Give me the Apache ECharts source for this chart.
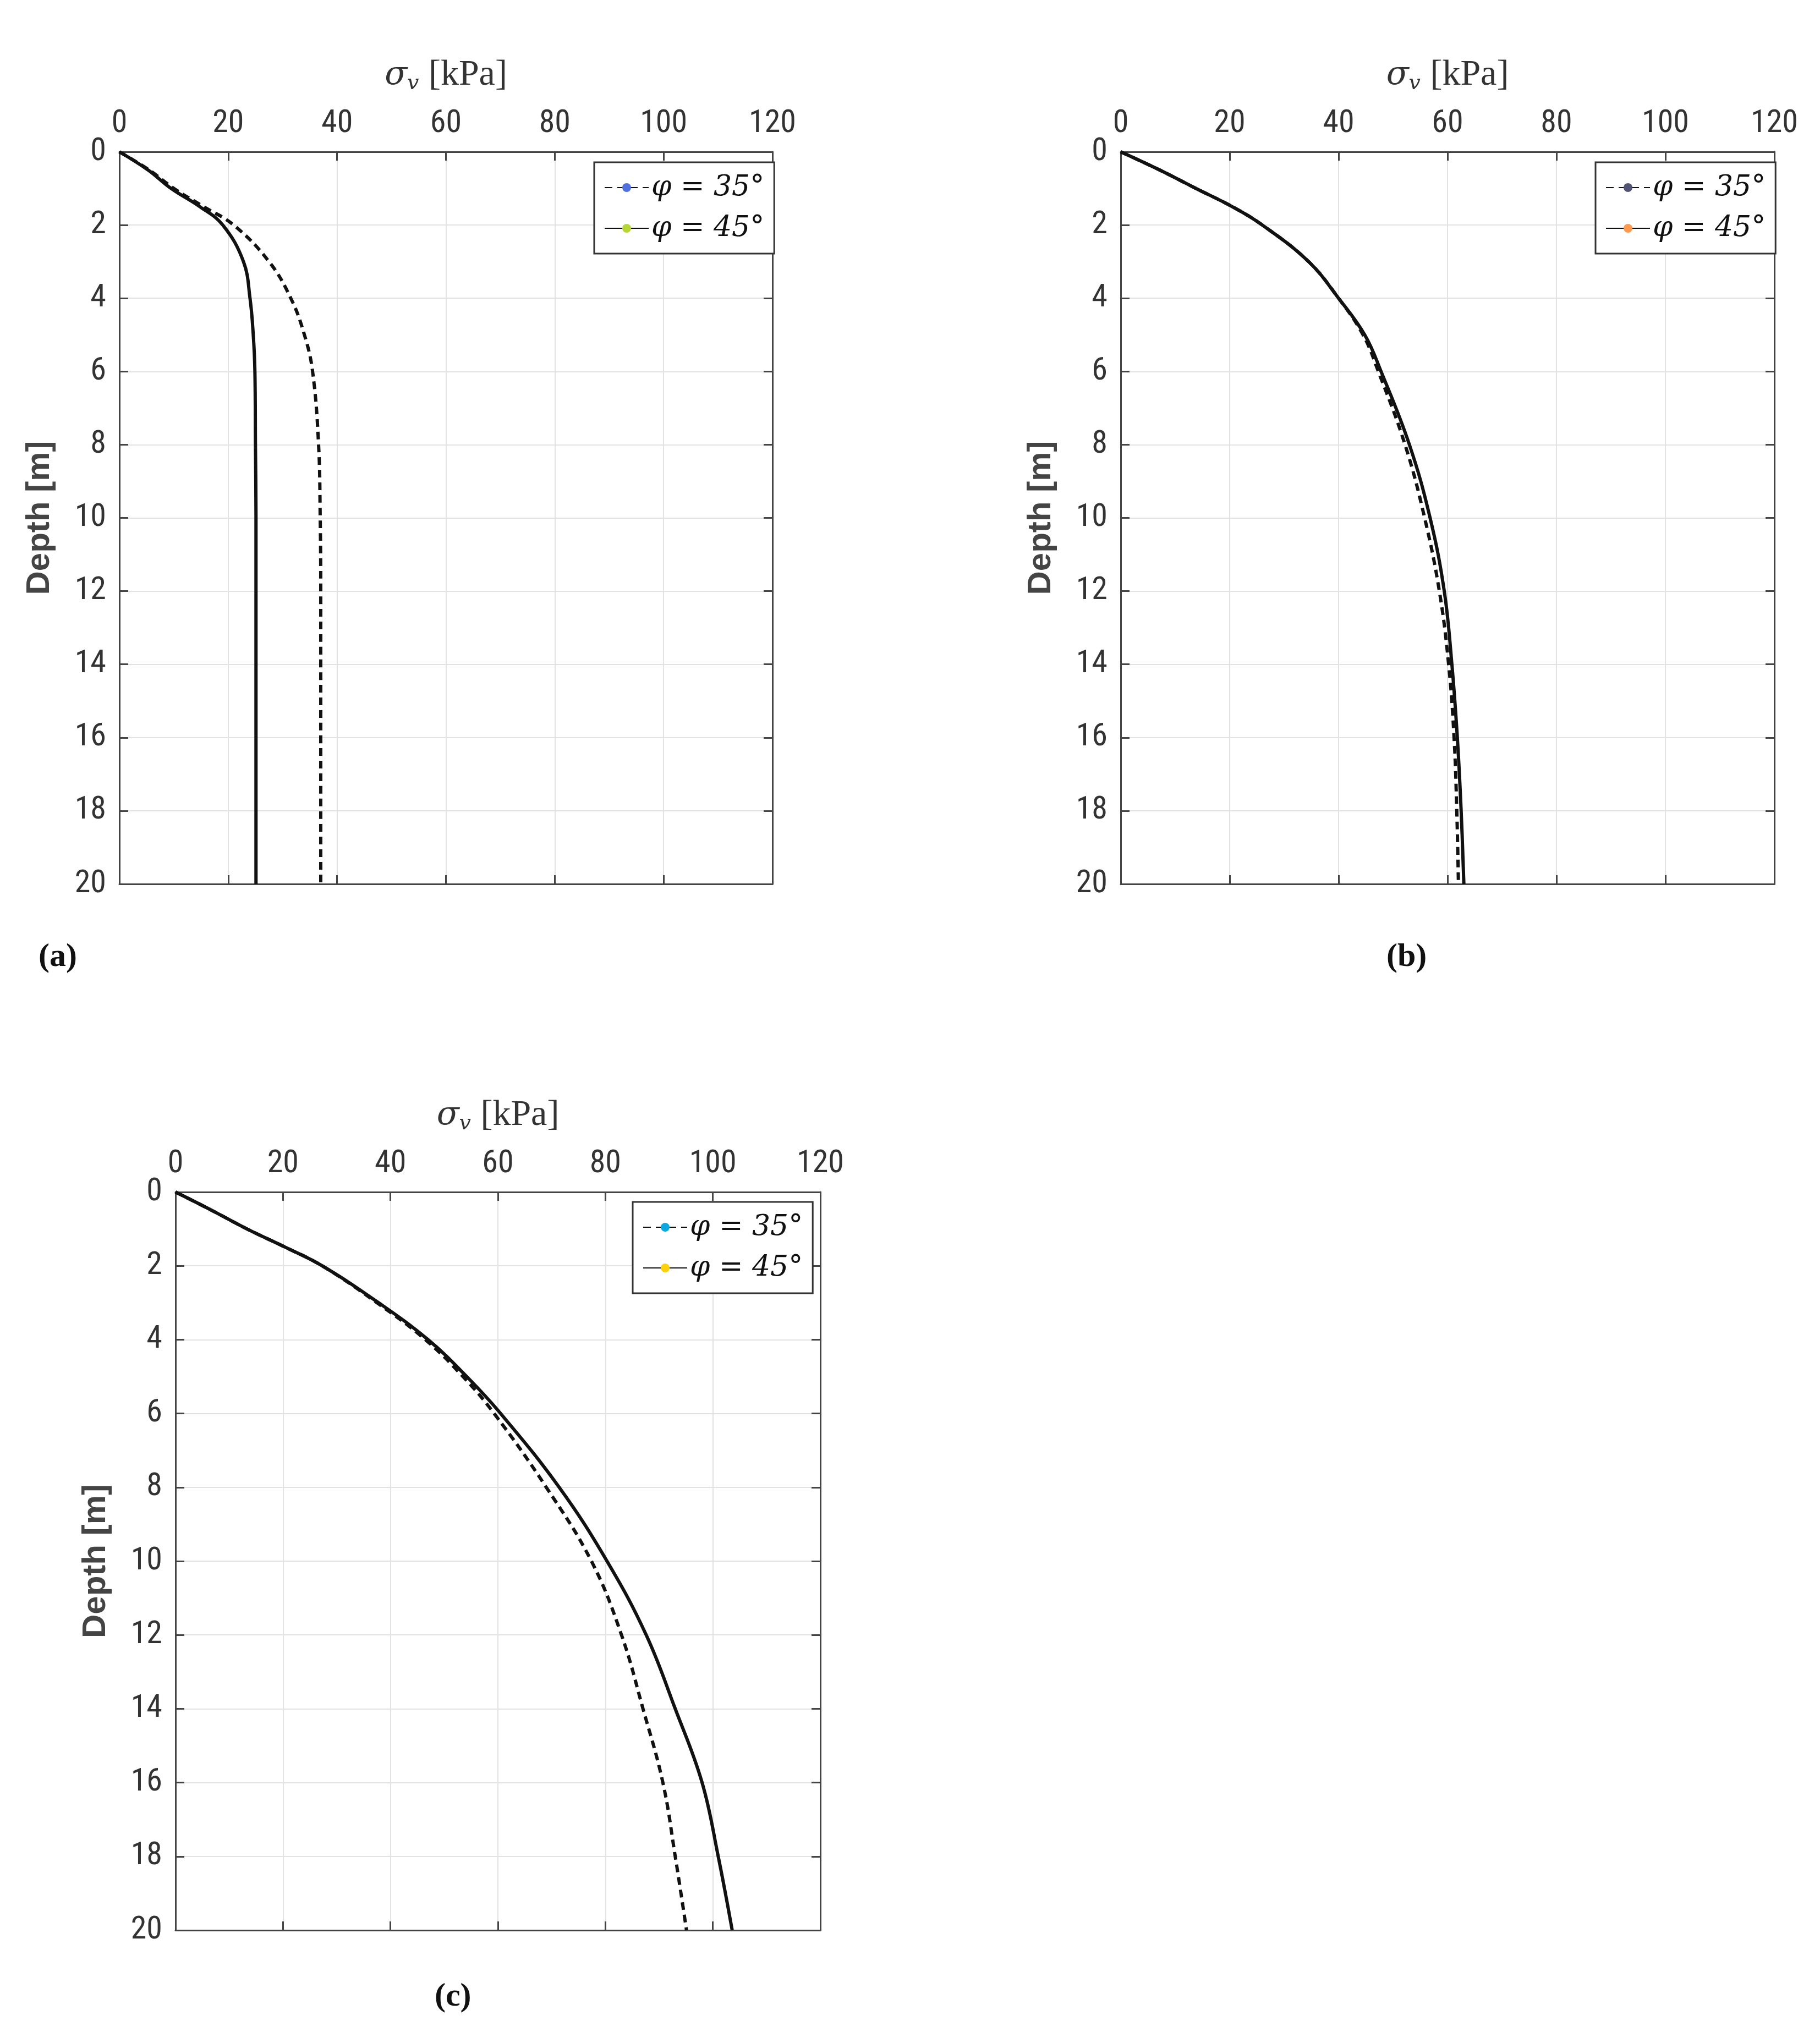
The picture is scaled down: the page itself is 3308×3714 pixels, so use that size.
<!DOCTYPE html>
<html>
<head>
<meta charset="UTF-8">
<script src="https://cdn.jsdelivr.net/npm/echarts@6/dist/echarts.min.js"></script>
<style>html,body,#chart{width:100%;height:100%;margin:0;padding:0;background:#fff}</style>
</head>
<body>
<div id="chart"></div>
<script>
const depths = [0, 0.5, 1, 1.5, 2, 3, 4, 5, 6, 8, 10, 12, 14, 16, 18, 20];
// panel (a)
const a35 = [0, 5.5, 10, 15.5, 21, 27.5, 31.5, 34, 35.5, 36.6, 36.9, 37.0, 37.0, 37.0, 37.0, 37.0];
const a45 = [0, 5.3, 9.5, 14.8, 19, 22.8, 24, 24.6, 24.9, 25.0, 25.1, 25.1, 25.1, 25.1, 25.1, 25.1];
// panel (b)
const b35 = [0, 7.2, 13.8, 20.5, 26, 34.5, 40, 44.5, 47.3, 52.2, 55.8, 58.5, 60.2, 61.2, 61.7, 62.0];
const b45 = [0, 7.2, 13.8, 20.5, 26, 34.5, 40, 44.8, 47.8, 53, 56.8, 59.4, 60.8, 61.8, 62.5, 63.0];
// panel (c)
const c35 = [0, 6.8, 13.3, 20.5, 27.3, 37.5, 46.5, 53.5, 59.3, 69, 77.4, 83, 87, 90.7, 93, 95.1];
const c45 = [0, 6.8, 13.3, 20.5, 27.3, 37.8, 47, 54.2, 60.5, 71.4, 80.3, 87.6, 93, 98, 101, 103.6];

const grids = [
  {left: 217, width: 1187, top: 276, height: 1331},
  {left: 2037, width: 1188, top: 276, height: 1331},
  {left: 319, width: 1172, top: 2167, height: 1342}
];
const panels = [[a35, a45], [b35, b45], [c35, c45]];
const gridLine = {show: true, lineStyle: {color: '#e2e2e2', width: 2}};
const axLine = {show: true, onZero: false, lineStyle: {color: '#444', width: 3}};
const tick = {show: true, inside: true, length: 16, lineStyle: {color: '#444', width: 3}};
const lbl = {fontFamily: 'Roboto Condensed, Liberation Sans Narrow, Roboto, sans-serif', fontSize: 58, color: '#333'};

const xAxis = [], yAxis = [], series = [];
grids.forEach((g, i) => {
  xAxis.push({gridIndex: i, type: 'value', position: 'top', min: 0, max: 120, interval: 20,
    axisLine: axLine, axisTick: tick, splitLine: gridLine, axisLabel: Object.assign({margin: 22}, lbl),
    name: '{s|σ}{v|v} {b|[kPa]}', nameLocation: 'middle', nameGap: 105,
    nameTextStyle: {rich: {
      s: {fontFamily: 'DejaVu Serif', fontStyle: 'italic', fontSize: 60, color: '#333'},
      v: {fontFamily: 'DejaVu Serif', fontStyle: 'italic', fontSize: 38, color: '#333', verticalAlign: 'bottom', padding: [30, 14, 0, 0]},
      b: {fontFamily: 'Liberation Serif', fontSize: 66, color: '#333'}}}});
  xAxis.push({gridIndex: i, type: 'value', position: 'bottom', min: 0, max: 120, interval: 20,
    axisLine: axLine, axisTick: tick, splitLine: {show: false}, axisLabel: {show: false}});
  yAxis.push({gridIndex: i, type: 'value', inverse: true, position: 'left', min: 0, max: 20, interval: 2,
    axisLine: axLine, axisTick: tick, splitLine: gridLine, axisLabel: Object.assign({margin: 24}, lbl),
    name: 'Depth [m]', nameLocation: 'middle', nameGap: 115,
    nameTextStyle: {fontFamily: 'Liberation Sans', fontWeight: 'bold', fontSize: 60, color: '#444'}});
  yAxis.push({gridIndex: i, type: 'value', inverse: true, position: 'right', min: 0, max: 20, interval: 2,
    axisLine: axLine, axisTick: tick, splitLine: {show: false}, axisLabel: {show: false}});
  const names = ['φ = 35°', 'φ = 45°'];
  panels[i].forEach((vals, k) => {
    series.push({
      name: names[k] + (i ? ' ' + i : ''), type: 'line', xAxisIndex: 2 * i, yAxisIndex: 2 * i,
      data: depths.map((d, j) => [vals[j], d]), smooth: 0.4, symbol: 'none', z: 5 - k,
      lineStyle: {color: '#111', width: 6, type: k === 0 ? [14, 9] : 'solid'}
    });
  });
});

const legendPos = [[1080, 295], [2900, 295], [1150, 2185]];
const legend = legendPos.map((p, i) => ({
  left: p[0], top: p[1], orient: 'vertical', align: 'left', itemWidth: 80, itemHeight: 20, itemGap: 22,
  padding: [20, 18], borderColor: '#333', borderWidth: 3, backgroundColor: '#fff',
  data: series.slice(2 * i, 2 * i + 2).map(s => s.name),
  formatter: n => n.split(' ').slice(0, 3).join(' '),
  textStyle: {fontFamily: 'DejaVu Serif', fontStyle: 'italic', fontSize: 52, color: '#111'}
}));

const chart = echarts.init(document.getElementById('chart'));
chart.setOption({
  animation: false,
  grid: grids,
  xAxis, yAxis, series, legend,
  graphic: [
    {type: 'text', left: 70, top: 1710, style: {text: '(a)', font: 'bold 60px Liberation Serif', fill: '#111'}},
    {type: 'text', left: 2520, top: 1710, style: {text: '(b)', font: 'bold 60px Liberation Serif', fill: '#111'}},
    {type: 'text', left: 790, top: 3600, style: {text: '(c)', font: 'bold 60px Liberation Serif', fill: '#111'}}
  ]
});
</script>
</body>
</html>
